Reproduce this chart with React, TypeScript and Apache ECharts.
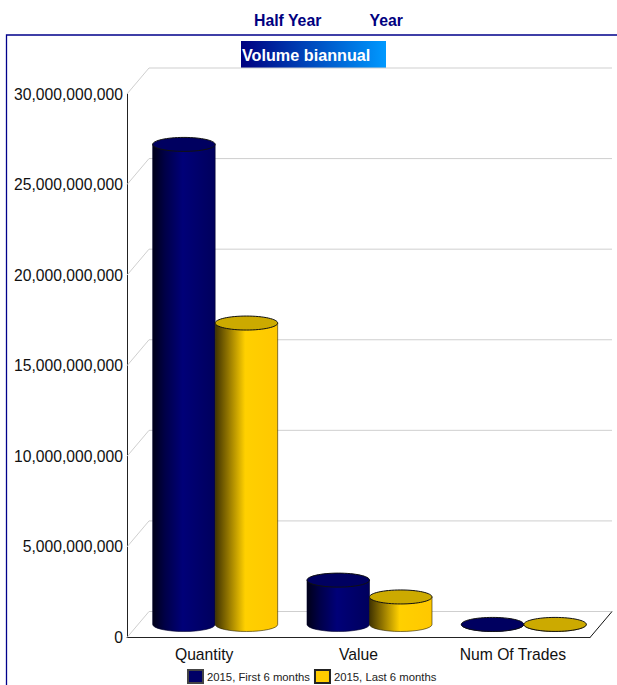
import React, { useEffect, useRef } from "react";
import * as echarts from "echarts";

const categories = ["Quantity", "Value", "Num Of Trades"];
const firstHalf = [26500000000, 2450000000, 5000000];
const lastHalf = [16640000000, 1520000000, 5000000];
const yTicks = [0, 5000000000, 10000000000, 15000000000, 20000000000, 25000000000, 30000000000];
const seriesNames = ["2015, First 6 months", "2015, Last 6 months"];
const navLabels = ["Half Year", "Year"];
const chartTitle = "Volume biannual";

const DEPTH_X = 22;
const DEPTH_Y = 26;
const RX = 31.25;
const RY = 7;
const FONT = "'Liberation Sans', Arial, sans-serif";

function cylinder(side: number, stops: string[], topFill: string, bodyStroke: string) {
  return (params: any, api: any) => {
    const p = api.coord([api.value(0), api.value(1)]);
    const base = api.coord([api.value(0), 0]);
    const cx = p[0] + DEPTH_X / 2 + side * RX;
    const yTop = p[1] - DEPTH_Y / 2;
    const yBase = base[1] - DEPTH_Y / 2;
    const x0 = cx - RX;
    const x1 = cx + RX;
    const fill = new echarts.graphic.LinearGradient(0, 0, 1, 0, [
      { offset: 0, color: stops[0] },
      { offset: 0.2, color: stops[1] },
      { offset: 0.48, color: stops[2] },
      { offset: 1, color: stops[3] },
    ]);
    return {
      type: "group",
      children: [
        {
          type: "path",
          shape: {
            pathData: `M${x0} ${yTop} L${x0} ${yBase} A${RX} ${RY} 0 0 0 ${x1} ${yBase} L${x1} ${yTop} Z`,
            x: x0,
            y: yTop,
            width: x1 - x0,
            height: yBase - yTop + RY,
            layout: "cover",
          },
          style: { fill, stroke: bodyStroke, lineWidth: 0.6 },
        },
        {
          type: "ellipse",
          shape: { cx, cy: yTop, rx: RX, ry: RY },
          style: { fill: topFill, stroke: "#111", lineWidth: 1 },
        },
      ],
    };
  };
}

function wall(params: any, api: any) {
  const c = params.coordSys;
  const y = api.coord([0, api.value(1)])[1];
  const left = c.x;
  const right = c.x + c.width;
  const grey = { stroke: "#cfcfcf", lineWidth: 1, fill: "none" };
  const children: any[] = [
    { type: "line", shape: { x1: left, y1: y, x2: left + DEPTH_X, y2: y - DEPTH_Y }, style: grey },
    { type: "line", shape: { x1: left + DEPTH_X, y1: y - DEPTH_Y, x2: right + DEPTH_X, y2: y - DEPTH_Y }, style: grey },
  ];
  if (api.value(1) === 0) {
    children.push({
      type: "line",
      shape: { x1: right, y1: y, x2: right + DEPTH_X, y2: y - DEPTH_Y },
      style: { stroke: "#111", lineWidth: 1, fill: "none" },
    });
  }
  return { type: "group", children };
}

export default function App() {
  const ref = useRef<HTMLDivElement>(null);
  useEffect(() => {
    const chart = echarts.init(ref.current!, undefined, { renderer: "svg" });
    chart.setOption({
      animation: false,
      backgroundColor: "#fff",
      grid: { left: 127, top: 94, width: 463, height: 543.5 },
      xAxis: {
        type: "category",
        data: categories,
        axisLine: { show: true, lineStyle: { color: "#222", width: 1 } },
        axisTick: { show: false },
        axisLabel: { color: "#111", fontFamily: FONT, fontSize: 15.7, margin: 9 },
        splitLine: { show: false },
      },
      yAxis: {
        type: "value",
        min: 0,
        max: 30000000000,
        interval: 5000000000,
        axisLine: { show: true, lineStyle: { color: "#222", width: 1 } },
        axisTick: { show: false },
        splitLine: { show: false },
        axisLabel: {
          color: "#111",
          fontFamily: FONT,
          fontSize: 15.7,
          margin: 4,
          padding: [2, 0, 0, 0],
          formatter: (v: number) => v.toLocaleString("en-US"),
        },
      },
      legend: {
        data: seriesNames.map((name) => ({ name, icon: "rect" })),
        left: 187,
        top: 669,
        itemWidth: 15,
        itemHeight: 13,
        itemGap: 4,
        padding: 0,
        selectedMode: false,
        textStyle: { fontFamily: FONT, fontSize: 11.3, color: "#222", padding: [0, 0, 0, -1] },
      },
      series: [
        {
          type: "custom",
          name: "wall",
          silent: true,
          z: 1,
          clip: false,
          renderItem: wall,
          data: yTicks.map((t) => [0, t]),
        },
        {
          type: "custom",
          name: seriesNames[0],
          z: 3,
          clip: false,
          renderItem: cylinder(-1, ["#000018", "#000048", "#000078", "#00005c"], "#000060", "#00002a"),
          itemStyle: { color: "#000066", borderColor: "#444", borderWidth: 1 },
          data: firstHalf.map((v, i) => [i, v]),
        },
        {
          type: "custom",
          name: seriesNames[1],
          z: 4,
          clip: false,
          renderItem: cylinder(1, ["#403300", "#8f7300", "#ffd000", "#ffc800"], "#ccaa00", "#2a2200"),
          itemStyle: { color: "#ffcc00", borderColor: "#222", borderWidth: 1 },
          data: lastHalf.map((v, i) => [i, v]),
        },
      ],
      graphic: [
        {
          type: "rect",
          silent: true,
          shape: { x: 6.5, y: 35, width: 800, height: 900 },
          style: { fill: "none", stroke: "#00008b", lineWidth: 1.3 },
        },
        {
          type: "rect",
          silent: true,
          shape: { x: 241, y: 41, width: 145, height: 27 },
          style: {
            fill: new echarts.graphic.LinearGradient(0, 0, 1, 0, [
              { offset: 0, color: "#000080" },
              { offset: 1, color: "#0099ff" },
            ]),
          },
        },
        {
          type: "text",
          silent: true,
          x: 242,
          y: 55,
          style: {
            text: chartTitle,
            fill: "#fff",
            font: `bold 16.2px ${FONT}`,
            verticalAlign: "middle",
          },
        },
        {
          type: "text",
          silent: true,
          x: 254,
          y: 20,
          style: { text: navLabels[0], fill: "#000080", font: `bold 15.8px ${FONT}`, verticalAlign: "middle" },
        },
        {
          type: "text",
          silent: true,
          x: 369.5,
          y: 20,
          style: { text: navLabels[1], fill: "#000080", font: `bold 15.8px ${FONT}`, verticalAlign: "middle" },
        },
      ],
    });
    return () => chart.dispose();
  }, []);
  return (
    <div
      ref={ref}
      style={{ position: "absolute", left: 0, top: 0, width: 617, height: 685, overflow: "hidden" }}
    />
  );
}
